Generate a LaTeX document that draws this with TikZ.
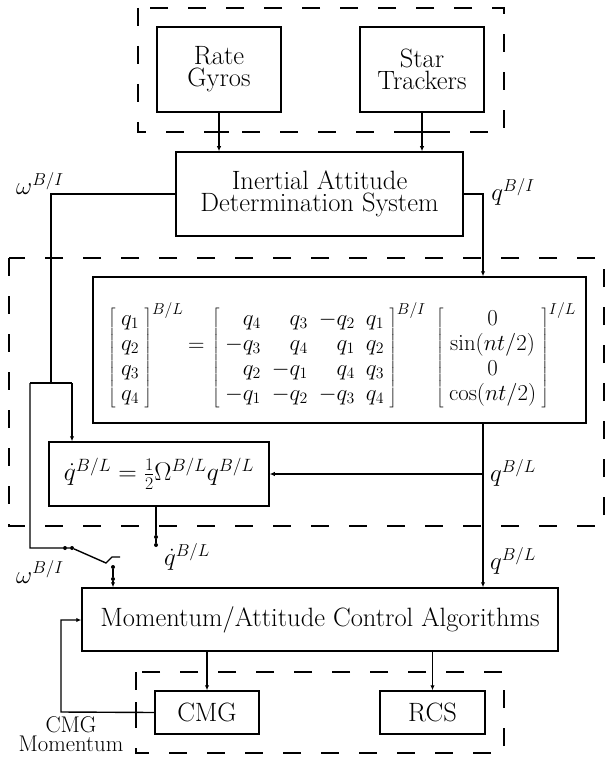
\documentclass[tikz,border=0pt]{standalone}
\usepackage{graphicx}
\usetikzlibrary{arrows.meta,calc}
\begin{document}
\begin{tikzpicture}[x=1pt,y=-1pt,
  box/.style={draw, line width=1.5pt, inner sep=0pt, align=center, font=\fontsize{26.5}{22}\selectfont},
  dbox/.style={line width=1.6pt, dash pattern=on 18pt off 20pt},
  tick/.style={line width=1.6pt},
  conn/.style={line width=1.4pt},
  arr/.style={conn, -{Latex[length=5pt,width=4.5pt]}},
  lbl/.style={inner sep=0pt, font=\fontsize{24}{22}\selectfont},
  eqn/.style={inner sep=0pt, anchor=west, font=\fontsize{20}{22.7}\selectfont},
  dot/.style={circle, fill, inner sep=0pt, minimum size=4pt}
]
\useasboundingbox (0,0) rectangle (608,759);

% dashed groupings
\draw[dbox] (138,8) rectangle (504,132);
\draw[dbox] (9,258) rectangle (604,526);
\draw[dbox] (136,672) rectangle (504,753);
\draw[tick] (207,132) -- (229,132);
\draw[tick] (411,132) -- (433,132);
\draw[tick] (136,702) -- (136,722);

% boxes
\node[box, minimum width=124pt, minimum height=85pt] (rg) at (219,69.5) {Rate\\Gyros};
\node[box, minimum width=124pt, minimum height=85pt] (st) at (422,69.5) {Star\\Trackers};
\node[box, minimum width=287pt, minimum height=84pt] (iads) at (319.5,194) {Inertial Attitude\\Determination System};
\node[box, minimum width=493pt, minimum height=146pt] (mat) at (339.5,350) {};
\node[box, minimum width=220pt, minimum height=64pt, font=\fontsize{24}{22}\selectfont] (qd) at (159,474) {\scalebox{1.03}{$\dot q^{B/L}=\frac12\Omega^{B/L}q^{B/L}$}};
\node[box, minimum width=476pt, minimum height=63pt] (mom) at (320,619.5) {Momentum/Attitude Control Algorithms};
\node[box, minimum width=104pt, minimum height=43pt] (cmg) at (207,712.5) {CMG};
\node[box, minimum width=105pt, minimum height=43pt] (rcs) at (432.5,712.5) {RCS};

% matrix equation
\node[eqn] (m1) at (108,355) {\scalebox{1.1}{$\left[\begin{array}{c}q_1\\q_2\\q_3\\q_4\end{array}\right]^{B/L}$}};
\node[eqn] (meq) at (188,347) {\scalebox{1.1}{$=$}};
\node[eqn] (m2) at (212,355) {\scalebox{1.1}{$\left[\begin{array}{rrrr}q_4&q_3&-q_2&q_1\\-q_3&q_4&q_1&q_2\\q_2&-q_1&q_4&q_3\\-q_1&-q_2&-q_3&q_4\end{array}\right]^{B/I}$}};
\node[eqn] (m3) at (436,355) {\scalebox{1.1}{$\left[\begin{array}{c}0\\\sin(nt/2)\\0\\\cos(nt/2)\end{array}\right]^{I/L}$}};

% sensors to IADS
\draw[arr] (rg.south) -- (rg.south |- iads.north);
\draw[arr] (st.south) -- (st.south |- iads.north);

% q^{B/I}
\coordinate (qr) at (483,194);
\draw[arr] (iads.east) -- (qr) -- (qr |- mat.north);

% omega path
\coordinate (jn) at (51,383);
\coordinate (jl) at (30,383);
\coordinate (jr) at (72,383);
\draw[conn] (iads.west) -| (jn);
\draw[conn] (jl) -- (jr);
\draw[arr] (jr) -- (jr |- qd.north);
\node[dot] (p1) at (65,548) {};
\node[dot] (p2) at (72,548) {};
\coordinate (arm) at (106,563);
\draw[conn] (jl) |- (p1) -- (p2) -- (arm) -- ++(6,-6) -- ++(8,0);
\node[dot] (c1) at (113,567) {};
\node[dot] (c2) at (113,579) {};
\draw[arr] (c1) -- (c2) -- (c1 |- mom.north);

% q^{B/L}
\coordinate (qb) at (483,474);
\draw[arr] (qr |- mat.south) -- (qr |- mom.north);
\draw[arr] (qb) -- (qd.east |- qb);

% qdot output
\node[dot] (d1) at (156,537) {};
\node[dot] (d2) at (156,545) {};
\draw[conn] (qd.south -| d1) -- (d1) -- (d2);

% actuators
\draw[arr] (cmg.north |- mom.south) -- (cmg.north);
\draw[arr] (rcs.north |- mom.south) -- (rcs.north);
\coordinate (fb) at (61,712);
\draw[arr] (cmg.west) -- (fb) |- (mom.west |- 0,620);

% labels
\node[lbl] (lw1) at (40,184) {$\omega^{B/I}$};
\node[lbl] (lq1) at (513,192) {$q^{B/I}$};
\node[lbl] (lq2) at (513,473) {$q^{B/L}$};
\node[lbl] (lq3) at (513,561) {$q^{B/L}$};
\node[lbl] (lqd) at (187,557) {$\dot q^{B/L}$};
\node[lbl] (lw2) at (40,572) {$\omega^{B/I}$};
\node[lbl, align=center, font=\fontsize{22.7}{19}\selectfont] (lcm) at (71,734) {CMG\\Momentum};
\end{tikzpicture}
\end{document}
